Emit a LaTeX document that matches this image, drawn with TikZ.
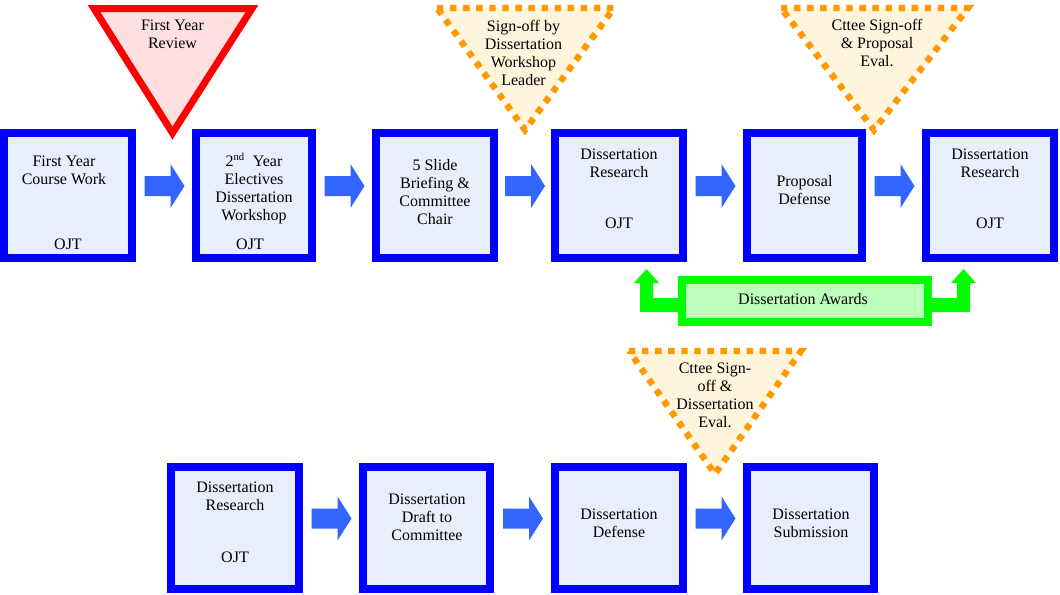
\documentclass[tikz,border=0pt]{standalone}
\usepackage{fontspec}
\setmainfont{Liberation Serif}
\usetikzlibrary{calc}
\definecolor{bblue}{RGB}{0,0,255}
\definecolor{bfill}{RGB}{232,238,252}
\definecolor{ablue}{RGB}{51,102,255}
\definecolor{rred}{RGB}{255,0,0}
\definecolor{rfill}{RGB}{255,224,224}
\definecolor{oorange}{RGB}{255,153,0}
\definecolor{ofill}{RGB}{255,244,220}
\definecolor{ggreen}{RGB}{0,255,0}
\definecolor{gfill}{RGB}{187,255,187}
\newcommand\blockarrow[2]{%
  \fill[ablue] ($(#1.east)!0.5!(#2.west)+(0,-9.5)$) ++(-19.5,-10) -- ++(26,0) -- ++(0,-12)
    -- ++(14,22) -- ++(-14,22) -- ++(0,-12) -- ++(-26,0) -- cycle;}
\begin{document}
\begin{tikzpicture}[x=0.75pt,y=-0.75pt,
  bx/.style n args={2}{draw=bblue, fill=bfill, line width=6pt, inner sep=0pt,
     minimum width=(#1-8)*0.75pt, minimum height=(#2-8)*0.75pt},
  txt/.style={align=center, anchor=north, inner sep=0pt, font=\fontsize{12}{13.5}\selectfont},
  redtri/.style={draw=rred, fill=rfill, line width=5.25pt, line join=miter},
  ortri/.style={draw=oorange, fill=ofill, line width=4.8pt, dash pattern=on 4.8pt off 5pt},
  gbox/.style={draw=ggreen, fill=gfill, line width=6pt, inner sep=0pt,
     minimum width=246*0.75pt, minimum height=42*0.75pt, font=\fontsize{12}{13.5}\selectfont}]
\useasboundingbox (0,0) rectangle (1060,594);

% row 1 boxes
\node[bx={136}{133}] (b1) at (68,195.5) {};
\node[bx={124}{133}] (b2) at (254,195.5) {};
\node[bx={126}{133}] (b3) at (435,195.5) {};
\node[bx={136}{133}] (b4) at (619,195.5) {};
\node[bx={123}{133}] (b5) at (804.5,195.5) {};
\node[bx={136}{133}] (b6) at (990,195.5) {};
% row 2 boxes
\node[bx={136}{130}] (c1) at (235,528) {};
\node[bx={135}{130}] (c2) at (426.5,528) {};
\node[bx={136}{130}] (c3) at (619,528) {};
\node[bx={135}{130}] (c4) at (810.5,528) {};

% block arrows
\blockarrow{b1}{b2}
\blockarrow{b2}{b3}
\blockarrow{b3}{b4}
\blockarrow{b4}{b5}
\blockarrow{b5}{b6}
\blockarrow{c1}{c2}
\blockarrow{c2}{c3}
\blockarrow{c3}{c4}

% awards and green bent arrows
\node[gbox] (aw) at (805,301) {};
\fill[ggreen] (aw.east) ++(-6,-3) -- ++(31,0) -- ++(0,-15) -- ++(-6,0) -- ++(12.5,-14)
  -- ++(12.5,14) -- ++(-6,0) -- ++(0,29) -- ++(-44,0) -- cycle;
\fill[ggreen] (aw.west) ++(6,-3) -- ++(-31,0) -- ++(0,-15) -- ++(6,0) -- ++(-12.5,-14)
  -- ++(-12.5,14) -- ++(6,0) -- ++(0,29) -- ++(44,0) -- cycle;
\node[gbox, draw=none, fill=none] (awt) at (803,299) {Dissertation Awards};

% triangles
\draw[redtri] (94,8.5) -- (252,8.5) -- (172.5,133) -- cycle;
\draw[ortri] (437,8) -- (614,8) -- (525,130) -- cycle;
\draw[ortri] (781,8) -- (968,8) -- (874,130) -- cycle;
\draw[ortri] (629,351) -- (801,351) -- (715,474) -- cycle;

% triangle texts
\node[txt] (tr1) at (172.5,17.7) {\strut First Year\\Review};
\node[txt] (to1) at (523.5,18.7) {\strut Sign-off by\\Dissertation\\Workshop\\Leader};
\node[txt] (to2) at (877,17.7) {\strut Cttee Sign-off\\\& Proposal\\Eval.};
\node[txt] (to3) at (715,360.7) {\strut Cttee Sign-\\off \&\\Dissertation\\Eval.};

% box texts row 1
\node[txt] (t1) at (64,153.2) {\strut First Year\\Course Work};
\node[txt] (o1) at (68,236.7) {\strut OJT};
\node[txt] (t2) at (254,153.2) {\strut 2\textsuperscript{nd}\ \ Year\\Electives\\Dissertation\\Workshop};
\node[txt] (o2) at (250,236.7) {\strut OJT};
\node[txt] (t3) at (435,157.7) {\strut 5 Slide\\Briefing \&\\Committee\\Chair};
\node[txt] (t4) at (619,146.7) {\strut Dissertation\\Research};
\node[txt] (o4) at (619,215.7) {\strut OJT};
\node[txt] (t5) at (804.5,173.7) {\strut Proposal\\Defense};
\node[txt] (t6) at (990,146.7) {\strut Dissertation\\Research};
\node[txt] (o6) at (990,215.7) {\strut OJT};

% box texts row 2
\node[txt] (u1) at (235,479.7) {\strut Dissertation\\Research};
\node[txt] (p1) at (235,549.7) {\strut OJT};
\node[txt] (u2) at (427,491.7) {\strut Dissertation\\Draft to\\Committee};
\node[txt] (u3) at (619,506.7) {\strut Dissertation\\Defense};
\node[txt] (u4) at (811,506.7) {\strut Dissertation\\Submission};
\end{tikzpicture}
\end{document}
